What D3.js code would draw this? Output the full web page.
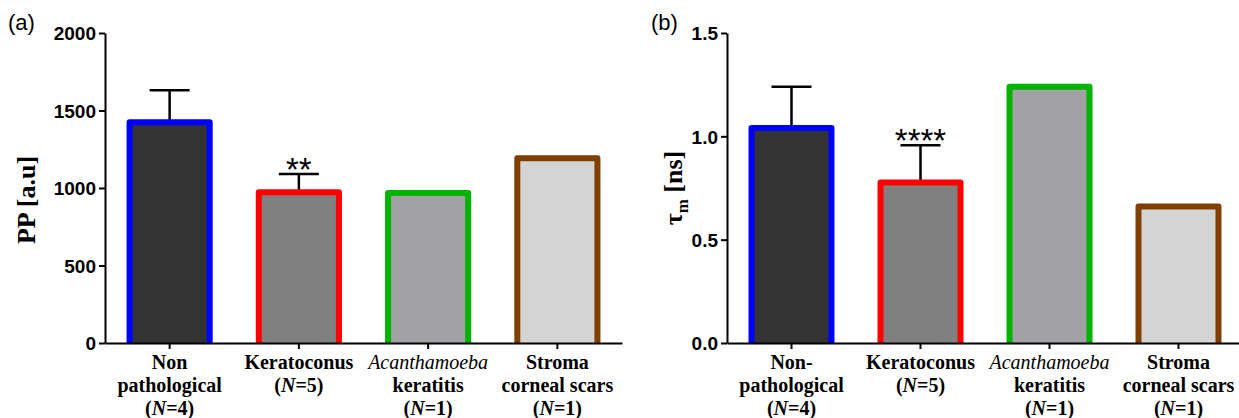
<!DOCTYPE html>
<html lang="en">
  <head>
    <meta charset="UTF-8" />
    <title>PP and tau_m by group</title>
    <script src="https://cdn.jsdelivr.net/npm/d3@7"></script>
    <style>
      body { margin: 0; background: #fff; }
      svg { display: block; }
      .tick text { font-family: "Liberation Sans", Arial, sans-serif; font-weight: bold; font-size: 19px; fill: #000; }
      .cat { font-family: "Liberation Serif", "Times New Roman", serif; font-weight: bold; font-size: 20px; }
      .ytitle { font-family: "Liberation Serif", "Times New Roman", serif; font-weight: bold; font-size: 26px; }
      .panel { font-family: "Liberation Sans", Arial, sans-serif; font-size: 22px; }
      .stars { font-family: "Liberation Sans", Arial, sans-serif; font-size: 33px; }
    </style>
  </head>
  <body>
    <svg width="1239" height="418"></svg>

    <script>
      // categories (same groups in both panels)
      var groups = ["np", "kc", "ak", "sc"];
      var labelsA = [
        ["Non", "pathological", "(N=4)"],
        ["Keratoconus", "(N=5)"],
        ["*Acanthamoeba", "keratitis", "(N=1)"],
        ["Stroma", "corneal scars", "(N=1)"],
      ];
      var labelsB = [
        ["Non-", "pathological", "(N=4)"],
        ["Keratoconus", "(N=5)"],
        ["*Acanthamoeba", "keratitis", "(N=1)"],
        ["Stroma", "corneal scars", "(N=1)"],
      ];
      var strokeColors = ["#0000ff", "#ff0000", "#00b400", "#7f3f00"];
      var fillColors = ["#333333", "#808080", "#a2a1a6", "#d4d4d4"];

      // panel (a): PP [a.u]
      var ppMean = [1425, 972, 968, 1192];
      var ppErr = [205, 118, 0, 0];
      var ppTicks = [0, 500, 1000, 1500, 2000];
      var ppStars = ["", "**", "", ""];

      // panel (b): tau_m [ns]
      var tauMean = [1.04, 0.777, 1.24, 0.66];
      var tauErr = [0.2, 0.18, 0, 0];
      var tauTicks = [0, 0.5, 1.0, 1.5];
      var tauStars = ["", "****", "", ""];

      var svg = d3.select("svg");

      function panel(opt) {
        var x = d3
          .scaleBand()
          .domain(groups)
          .range([opt.x0, opt.x1])
          .paddingInner(0.38)
          .paddingOuter(0.19);
        var y = d3.scaleLinear().domain(opt.domain).range([343, 33]);
        var g = svg.append("g");

        // error bars (upper only)
        groups.forEach(function (k, i) {
          if (!opt.err[i]) return;
          var cx = x(k) + x.bandwidth() / 2;
          g.append("line")
            .attr("x1", cx).attr("x2", cx)
            .attr("y1", y(opt.mean[i])).attr("y2", y(opt.mean[i] + opt.err[i]))
            .attr("stroke", "#000").attr("stroke-width", 2.5);
          g.append("line")
            .attr("x1", cx - 20).attr("x2", cx + 20)
            .attr("y1", y(opt.mean[i] + opt.err[i])).attr("y2", y(opt.mean[i] + opt.err[i]))
            .attr("stroke", "#000").attr("stroke-width", 2.5);
        });

        // bars: fill + three-sided outline
        g.selectAll(".bar")
          .data(groups)
          .enter()
          .append("rect")
          .attr("x", function (d) { return x(d); })
          .attr("y", function (d, i) { return y(opt.mean[i]); })
          .attr("width", x.bandwidth())
          .attr("height", function (d, i) { return y(0) - y(opt.mean[i]); })
          .attr("fill", function (d, i) { return fillColors[i]; });

        g.selectAll(".edge")
          .data(groups)
          .enter()
          .append("path")
          .attr("d", function (d, i) {
            var l = x(d), r = x(d) + x.bandwidth(), t = y(opt.mean[i]), b = y(0);
            return "M" + l + "," + b + "L" + l + "," + t + "L" + r + "," + t + "L" + r + "," + b;
          })
          .attr("fill", "none")
          .attr("stroke", function (d, i) { return strokeColors[i]; })
          .attr("stroke-width", 6)
          .attr("stroke-linejoin", "round");

        // significance stars
        groups.forEach(function (k, i) {
          if (!opt.stars[i]) return;
          g.append("text")
            .attr("class", "stars")
            .attr("x", x(k) + x.bandwidth() / 2)
            .attr("y", y(opt.mean[i] + opt.err[i]) + 7)
            .attr("text-anchor", "middle")
            .text(opt.stars[i]);
        });

        // axes
        var yAxis = g.append("g")
          .attr("transform", "translate(" + opt.x0 + ",0)")
          .call(d3.axisLeft(y).tickValues(opt.ticks).tickFormat(opt.fmt).tickSize(6).tickSizeOuter(0).tickPadding(3));
        var xAxis = g.append("g")
          .attr("transform", "translate(0,343)")
          .call(d3.axisBottom(x).tickSize(6).tickSizeOuter(0).tickFormat(""));
        [yAxis, xAxis].forEach(function (a) {
          a.select(".domain").attr("stroke-width", 2);
          a.selectAll(".tick line").attr("stroke-width", 2);
        });
        yAxis.selectAll(".tick text").attr("dy", "0.36em");

        // category labels
        groups.forEach(function (k, i) {
          var cx = x(k) + x.bandwidth() / 2;
          var t = g.append("text")
            .attr("class", "cat")
            .attr("text-anchor", "middle")
            .attr("x", cx)
            .attr("y", 369);
          opt.labels[i].forEach(function (line, j) {
            var dy = j === 0 ? 0 : 23;
            if (line.charAt(0) === "*") {
              t.append("tspan").attr("x", cx).attr("dy", dy)
                .attr("font-style", "italic").attr("font-weight", "normal")
                .text(line.slice(1));
            } else if (line.indexOf("N=") >= 0) {
              var parts = line.split("N");
              t.append("tspan").attr("x", cx).attr("dy", dy).text(parts[0]);
              t.append("tspan").attr("font-style", "italic").text("N");
              t.append("tspan").text(parts[1]);
            } else {
              t.append("tspan").attr("x", cx).attr("dy", dy).text(line);
            }
          });
        });

        // panel letter
        svg.append("text").attr("class", "panel").attr("x", opt.letterX).attr("y", 30).text(opt.letter);
        return g;
      }

      panel({
        x0: 105, x1: 622, domain: [0, 2000], ticks: ppTicks, fmt: d3.format("d"),
        mean: ppMean, err: ppErr, stars: ppStars, labels: labelsA, letter: "(a)", letterX: 8,
      });
      panel({
        x0: 727, x1: 1243, domain: [0, 1.5], ticks: tauTicks, fmt: d3.format(".1f"),
        mean: tauMean, err: tauErr, stars: tauStars, labels: labelsB, letter: "(b)", letterX: 651,
      });

      // y titles
      svg.append("text")
        .attr("class", "ytitle")
        .attr("transform", "translate(35,200) rotate(-90)")
        .attr("text-anchor", "middle")
        .text("PP [a.u]");

      var tt = svg.append("text")
        .attr("class", "ytitle")
        .attr("transform", "translate(682,188) rotate(-90)")
        .attr("text-anchor", "middle");
      tt.append("tspan").text("\u03c4");
      tt.append("tspan").attr("font-size", "17px").attr("dy", 6).text("m");
      tt.append("tspan").attr("dy", -6).text(" [ns]");
    </script>
  </body>
</html>
